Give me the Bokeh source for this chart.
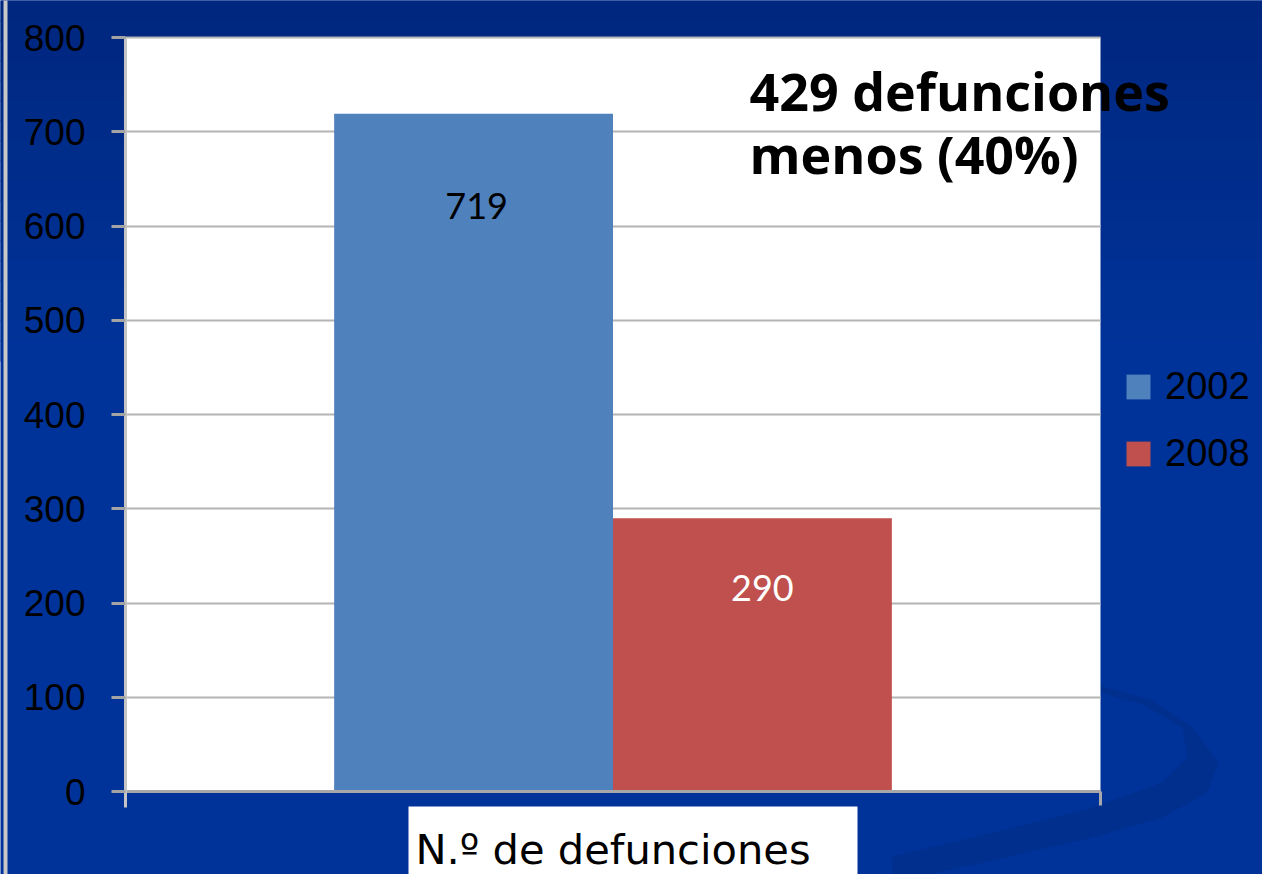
from bokeh.plotting import figure
from bokeh.models import (ColumnDataSource, Range1d, Label, BoxAnnotation, PolyAnnotation,
                          Legend, LegendItem, FixedTicker, Grid)
from bokeh.transform import dodge
from bokeh.embed import file_html
from bokeh.resources import INLINE

# ---- data ----
categories = ["N.º de defunciones"]
years = ["2002", "2008"]
deaths_2002 = [719]
deaths_2008 = [290]
y_ticks = [0, 100, 200, 300, 400, 500, 600, 700, 800]
note_lines = ["429 defunciones", "menos (40%)"]

BG = "#003399"
BLUE = "#4F81BD"
RED = "#C0504D"

x_pos = list(range(len(categories)))
src = ColumnDataSource(dict(
    x=x_pos,
    v2002=deaths_2002,
    v2008=deaths_2008,
    t2002=[str(v) for v in deaths_2002],
    t2008=[str(v) for v in deaths_2008],
))

# canvas geometry (pixels): plot area spans x 125..1100, y 37..791
W, H = 1262, 874
PX_L, PX_R, PX_T, PX_B = 125, 1100, 37, 791
XU = PX_R - PX_L
YU = (PX_B - PX_T) / 800.0


def fx(px):
    return -0.5 + (px - PX_L) / XU


def fy(py):
    return (PX_B - py) / YU


p = figure(width=W, height=H,
           x_range=Range1d(fx(0), fx(W)),
           y_range=Range1d(fy(H), fy(0)),
           output_backend="svg", toolbar_location=None,
           min_border=0,
           background_fill_color=BG, border_fill_color=BG,
           outline_line_color=None)

# slide background: darker towards the top
top_rgb, low_rgb = (0, 39, 128), (0, 51, 153)
band_edges = list(range(0, 361, 20))
for i in range(len(band_edges) - 1):
    t = i / (len(band_edges) - 2)
    c = tuple(round(a + (b - a) * t) for a, b in zip(top_rgb, low_rgb))
    p.add_layout(BoxAnnotation(left=fx(-10), right=fx(W + 10),
                               top=fy(band_edges[i] - (10 if i == 0 else 0)),
                               bottom=fy(band_edges[i + 1] + 1),
                               fill_color="#%02x%02x%02x" % c, fill_alpha=1,
                               line_color=None, level="image"))

# slide decoration swoosh
sw_px = [(1100, 685), (1152, 700), (1192, 727), (1218, 762), (1207, 792), (1162, 817),
         (1092, 837), (992, 860), (892, 882), (892, 856), (992, 832), (1092, 807),
         (1162, 782), (1187, 757), (1182, 727), (1142, 704), (1100, 692)]
p.add_layout(PolyAnnotation(xs=[fx(a) for a, b in sw_px], ys=[fy(b) for a, b in sw_px],
                            fill_color="#002F8E", fill_alpha=1, line_color=None,
                            level="image"))

# white plot area and label box, slide frame line
p.add_layout(BoxAnnotation(left=-0.5, right=0.5, bottom=0, top=800,
                           fill_color="white", fill_alpha=1, line_color=None,
                           level="image"))
p.add_layout(BoxAnnotation(left=fx(408), right=fx(857), top=fy(806), bottom=fy(877),
                           fill_color="white", fill_alpha=1, line_color=None,
                           level="image"))
p.add_layout(BoxAnnotation(left=fx(3), right=fx(7), top=fy(-10), bottom=fy(H + 10),
                           fill_color="#C8C8C8", fill_alpha=1, line_color=None,
                           level="image"))

r1 = p.vbar(x=dodge("x", -0.143), top="v2002", width=0.286,
            source=src, fill_color=BLUE, line_color=None)
r2 = p.vbar(x=dodge("x", 0.143), top="v2008", width=0.286,
            source=src, fill_color=RED, line_color=None)

p.text(x=dodge("x", -0.143), y="v2002", text="t2002", source=src,
       text_align="center", text_baseline="middle", y_offset=92, x_offset=3,
       text_font={"value": "Lato"}, text_font_size="36px", text_color="black")
p.text(x=dodge("x", 0.143), y="v2008", text="t2008", source=src,
       text_align="center", text_baseline="middle", y_offset=70, x_offset=10,
       text_font={"value": "Lato"}, text_font_size="36px", text_color="white")

for line, base in zip(note_lines, (90, 153)):
    p.add_layout(Label(x=fx(749), y=fy(base), text=line, text_font="Open Sans",
                       text_font_style="bold", text_font_size="52px", text_color="black",
                       text_align="left", text_baseline="alphabetic"))

# axes (fixed inside the canvas)
p.yaxis.fixed_location = -0.5
p.yaxis.bounds = (fy(807), 800)
p.yaxis.ticker = FixedTicker(ticks=y_ticks)
p.yaxis.major_label_text_font = "Liberation Sans"
p.yaxis.major_label_text_font_size = "37px"
p.yaxis.major_label_text_color = "black"
p.yaxis.axis_line_color = "#C4C4C4"
p.yaxis.axis_line_width = 3
p.yaxis.major_tick_line_color = "#A4A4A4"
p.yaxis.major_tick_line_width = 3
p.yaxis.major_tick_out = 14
p.yaxis.major_tick_in = 0
p.yaxis.minor_tick_line_color = None
p.yaxis.major_label_standoff = 26

p.xaxis.fixed_location = 0
p.xaxis.ticker = FixedTicker(ticks=x_pos, minor_ticks=[-0.5, 0.5])
p.xaxis.major_label_overrides = {i: c for i, c in zip(x_pos, categories)}
p.xaxis.bounds = (-0.5, 0.5)
p.xaxis.major_label_text_font = "DejaVu Sans"
p.xaxis.major_label_text_font_size = "41.6px"
p.xaxis.major_label_text_color = "black"
p.xaxis.axis_line_color = "#A8A8A8"
p.xaxis.axis_line_width = 3
p.xaxis.major_tick_line_color = None
p.xaxis.major_tick_out = 0
p.xaxis.major_tick_in = 0
p.xaxis.minor_tick_line_color = "#A8A8A8"
p.xaxis.minor_tick_line_width = 3
p.xaxis.minor_tick_out = 14
p.xaxis.minor_tick_in = 0
p.xaxis.major_label_standoff = 19

p.xgrid.grid_line_color = None
p.ygrid.ticker = FixedTicker(ticks=y_ticks)
p.ygrid.grid_line_color = "#B4B4B4"
p.ygrid.grid_line_width = 2
if "cross_bounds" in Grid.properties():
    p.ygrid.cross_bounds = (-0.5, 0.5)

legend = Legend(items=[LegendItem(label=years[0], renderers=[r1]),
                       LegendItem(label=years[1], renderers=[r2])],
                location=(1123, H - 475), orientation="vertical",
                background_fill_alpha=0, border_line_color=None,
                label_text_font="Liberation Sans", label_text_font_size="38px",
                label_text_color="black", glyph_width=30, glyph_height=31,
                label_height=44, spacing=23, padding=0, margin=0, label_standoff=12)
p.add_layout(legend, "center")

open("out.html", "w").write(file_html(p, INLINE))
